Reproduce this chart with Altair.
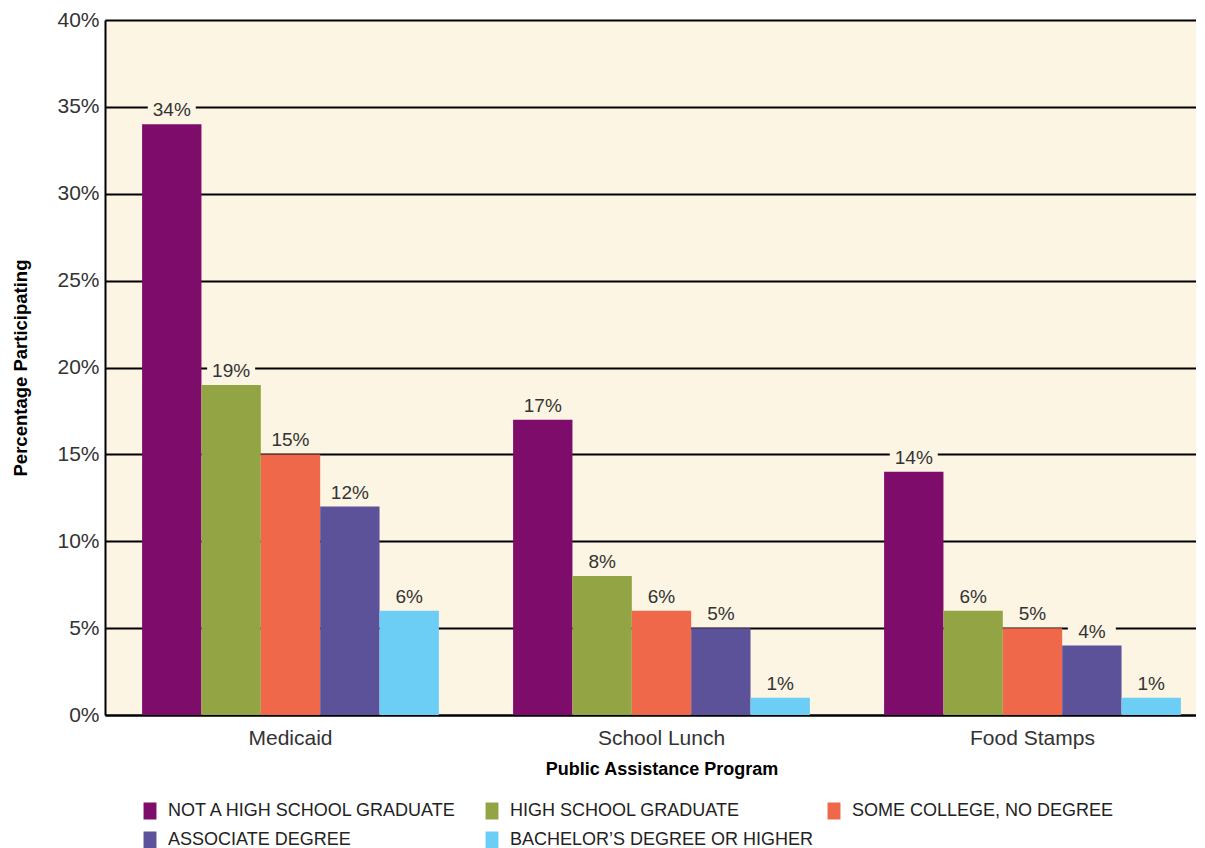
import altair as alt
import pandas as pd

programs = ["Medicaid", "School Lunch", "Food Stamps"]
levels = [
    "NOT A HIGH SCHOOL GRADUATE",
    "HIGH SCHOOL GRADUATE",
    "SOME COLLEGE, NO DEGREE",
    "ASSOCIATE DEGREE",
    "BACHELOR\u2019S DEGREE OR HIGHER",
]
colors = ["#7E0C6B", "#93A444", "#F0684A", "#5B5299", "#6DCEF5"]
medicaid = [34, 19, 15, 12, 6]
school_lunch = [17, 8, 6, 5, 1]
food_stamps = [14, 6, 5, 4, 1]

rows = []
for prog, vals in zip(programs, [medicaid, school_lunch, food_stamps]):
    for lev, v in zip(levels, vals):
        rows.append({"program": prog, "level": lev, "value": v})
df = pd.DataFrame(rows)

FONT = "Liberation Sans"
BG = "#FDF5E3"

x = alt.X("program:N", sort=programs,
          scale=alt.Scale(paddingInner=0.2, paddingOuter=0.1),
          axis=alt.Axis(title="Public Assistance Program", labelFontSize=21,
                        labelColor="#333333", labelFont=FONT, labelPadding=12,
                        ticks=False, domainColor="black", domainWidth=2,
                        titleFont=FONT, titleFontSize=18,
                        titleFontWeight="bold", titleColor="black",
                        titlePadding=12, labelAngle=0))
xo = alt.XOffset("level:N", sort=levels, scale=alt.Scale(paddingInner=0, paddingOuter=0))

base = alt.Chart(df)

bars = base.mark_bar().encode(
    x=x,
    xOffset=xo,
    y=alt.Y("value:Q", scale=alt.Scale(domain=[0, 40]),
            axis=alt.Axis(title="Percentage Participating", values=[0, 5, 10, 15, 20, 25, 30, 35, 40],
                          labelExpr="datum.value + '%'", labelFontSize=21, labelColor="#333333",
                          labelFont=FONT, ticks=False, labelPadding=6,
                          domainColor="black", domainWidth=2,
                          grid=True, gridColor="black", gridWidth=2, gridOpacity=1,
                          titleFont=FONT, titleFontSize=18.5, titleFontWeight="bold",
                          titleColor="black", titlePadding=26)),
    color=alt.Color("level:N", sort=levels,
                    scale=alt.Scale(domain=levels, range=colors),
                    legend=alt.Legend(title=None, orient="none", legendX=36, legendY=782,
                                      direction="horizontal", columns=3, gridAlign="all",
                                      symbolType="M-0.76,-1H0.76V1H-0.76Z", symbolSize=289,
                                      symbolStrokeWidth=0,
                                      labelFont=FONT, labelFontSize=18, labelColor="#222222",
                                      labelLimit=400, labelOffset=9,
                                      columnPadding=11, rowPadding=11)),
)

boxes = base.transform_calculate(
    lo="datum.value + 0.25", hi="datum.value + 1.45"
).mark_bar(color=BG, size=48).encode(
    x=alt.X("program:N", sort=programs),
    xOffset=xo,
    y="lo:Q",
    y2="hi:Q",
)

labels = base.transform_calculate(
    lab="datum.value + '%'"
).mark_text(baseline="bottom", dy=-4, fontSize=19, font=FONT, color="#333333").encode(
    x=alt.X("program:N", sort=programs),
    xOffset=xo,
    y="value:Q",
    text="lab:N",
)

chart = alt.layer(bars, boxes, labels).properties(
    width=1113, height=695,
    background="white",
    padding={"left": 3, "top": 1, "right": -22, "bottom": 3},
).configure_view(fill=BG, stroke=None)

chart.save("out.html", embed_options={"renderer": "svg", "actions": False})
